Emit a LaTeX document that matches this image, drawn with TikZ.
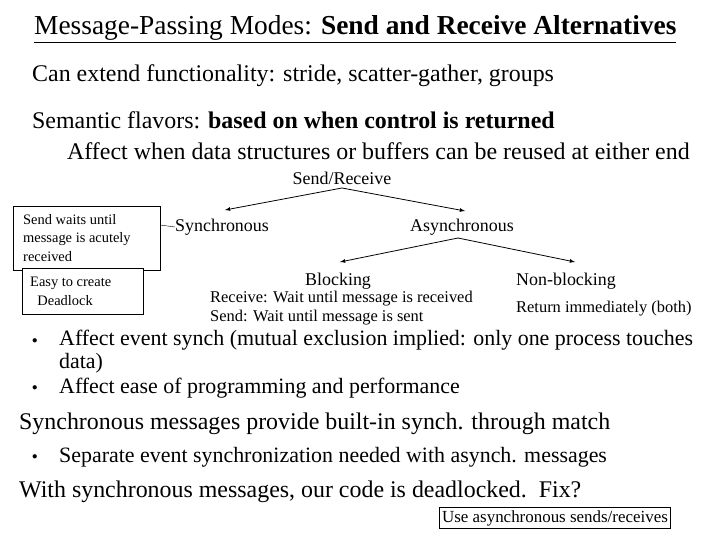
\documentclass[tikz,border=0pt]{standalone}
\usepackage{fontspec}
\setmainfont{Liberation Serif}
\begin{document}
\begin{tikzpicture}[x=1bp,y=-1bp,
  big/.style={anchor=west,inner sep=0,font=\fontsize{24}{27}\selectfont},
  mid/.style={anchor=west,inner sep=0,font=\fontsize{22}{23}\selectfont},
  sm/.style={anchor=west,inner sep=0,font=\fontsize{16.5}{18}\selectfont},
  bx/.style={anchor=west,inner sep=0,font=\fontsize{14.5}{19}\selectfont},
  md/.style={inner sep=0,font=\fontsize{18}{20}\selectfont},
  dot/.style={anchor=west,inner sep=0,font=\fontsize{11}{12}\selectfont},
  arr/.style={-latex,thick}]
\useasboundingbox (0,0) rectangle (720,540);
\node[big,font=\fontsize{27.5}{30}\selectfont] (title) at (34,29) {\underline{Message-Passing Modes: \textbf{Send and Receive Alternatives}}};
\node[big] (l1) at (32,76) {Can extend functionality: stride, scatter-gather, groups};
\node[big] (l2) at (32,120) {Semantic flavors: \textbf{based on when control is returned}};
\node[big] (l3) at (67,151) {Affect when data structures or buffers can be reused at either end};
\node[md] (sr) at (342,178) {Send/Receive};
\node[md,anchor=west] (sy) at (175,227) {Synchronous};
\node[md,anchor=west] (as) at (410,227) {Asynchronous};
\node[md,anchor=west] (bl) at (305,281) {Blocking};
\node[md,anchor=west] (nb) at (516,281) {Non-blocking};
\node[sm,align=left] (bt) at (210,308) {Receive: Wait until message is received\\[1pt]Send: Wait until message is sent};
\node[sm] (ri) at (516,309) {Return immediately (both)};
\draw (13,206) rectangle (160,270);
\node[bx,align=left] (b1) at (23,238) {Send waits until\\message is acutely\\received};
\draw[fill=white] (22,268) rectangle (143,314);
\node[bx,align=left] (b2) at (30,291) {Easy to create\\\ \ Deadlock};
\draw (160,225) -- (sy.west);
\coordinate (c1) at (342,188);
\coordinate (c2) at (458,238);
\draw[arr] (c1) -- (225,210);
\draw[arr] (c1) -- (465,211);
\draw[arr] (c2) -- (340,262);
\draw[arr] (c2) -- (575,262);
\node[dot] (d1) at (32,341) {$\bullet$};
\node[mid,align=left] (l4) at (59,352) {Affect event synch (mutual exclusion implied: only one process touches\\data)};
\node[dot] (d2) at (32,388) {$\bullet$};
\node[mid] (l5) at (59,388) {Affect ease of programming and performance};
\node[big] (l6) at (19,424) {Synchronous messages provide built-in synch. through match};
\node[dot] (d3) at (32,457) {$\bullet$};
\node[mid] (l7) at (59,457) {Separate event synchronization needed with asynch. messages};
\node[big] (l8) at (19,492) {With synchronous messages, our code is deadlocked.\ \ Fix?};
\node[draw,thick,inner sep=3pt,font=\fontsize{17}{19}\selectfont] (fx) at (555,518) {Use asynchronous sends/receives};
\end{tikzpicture}
\end{document}
